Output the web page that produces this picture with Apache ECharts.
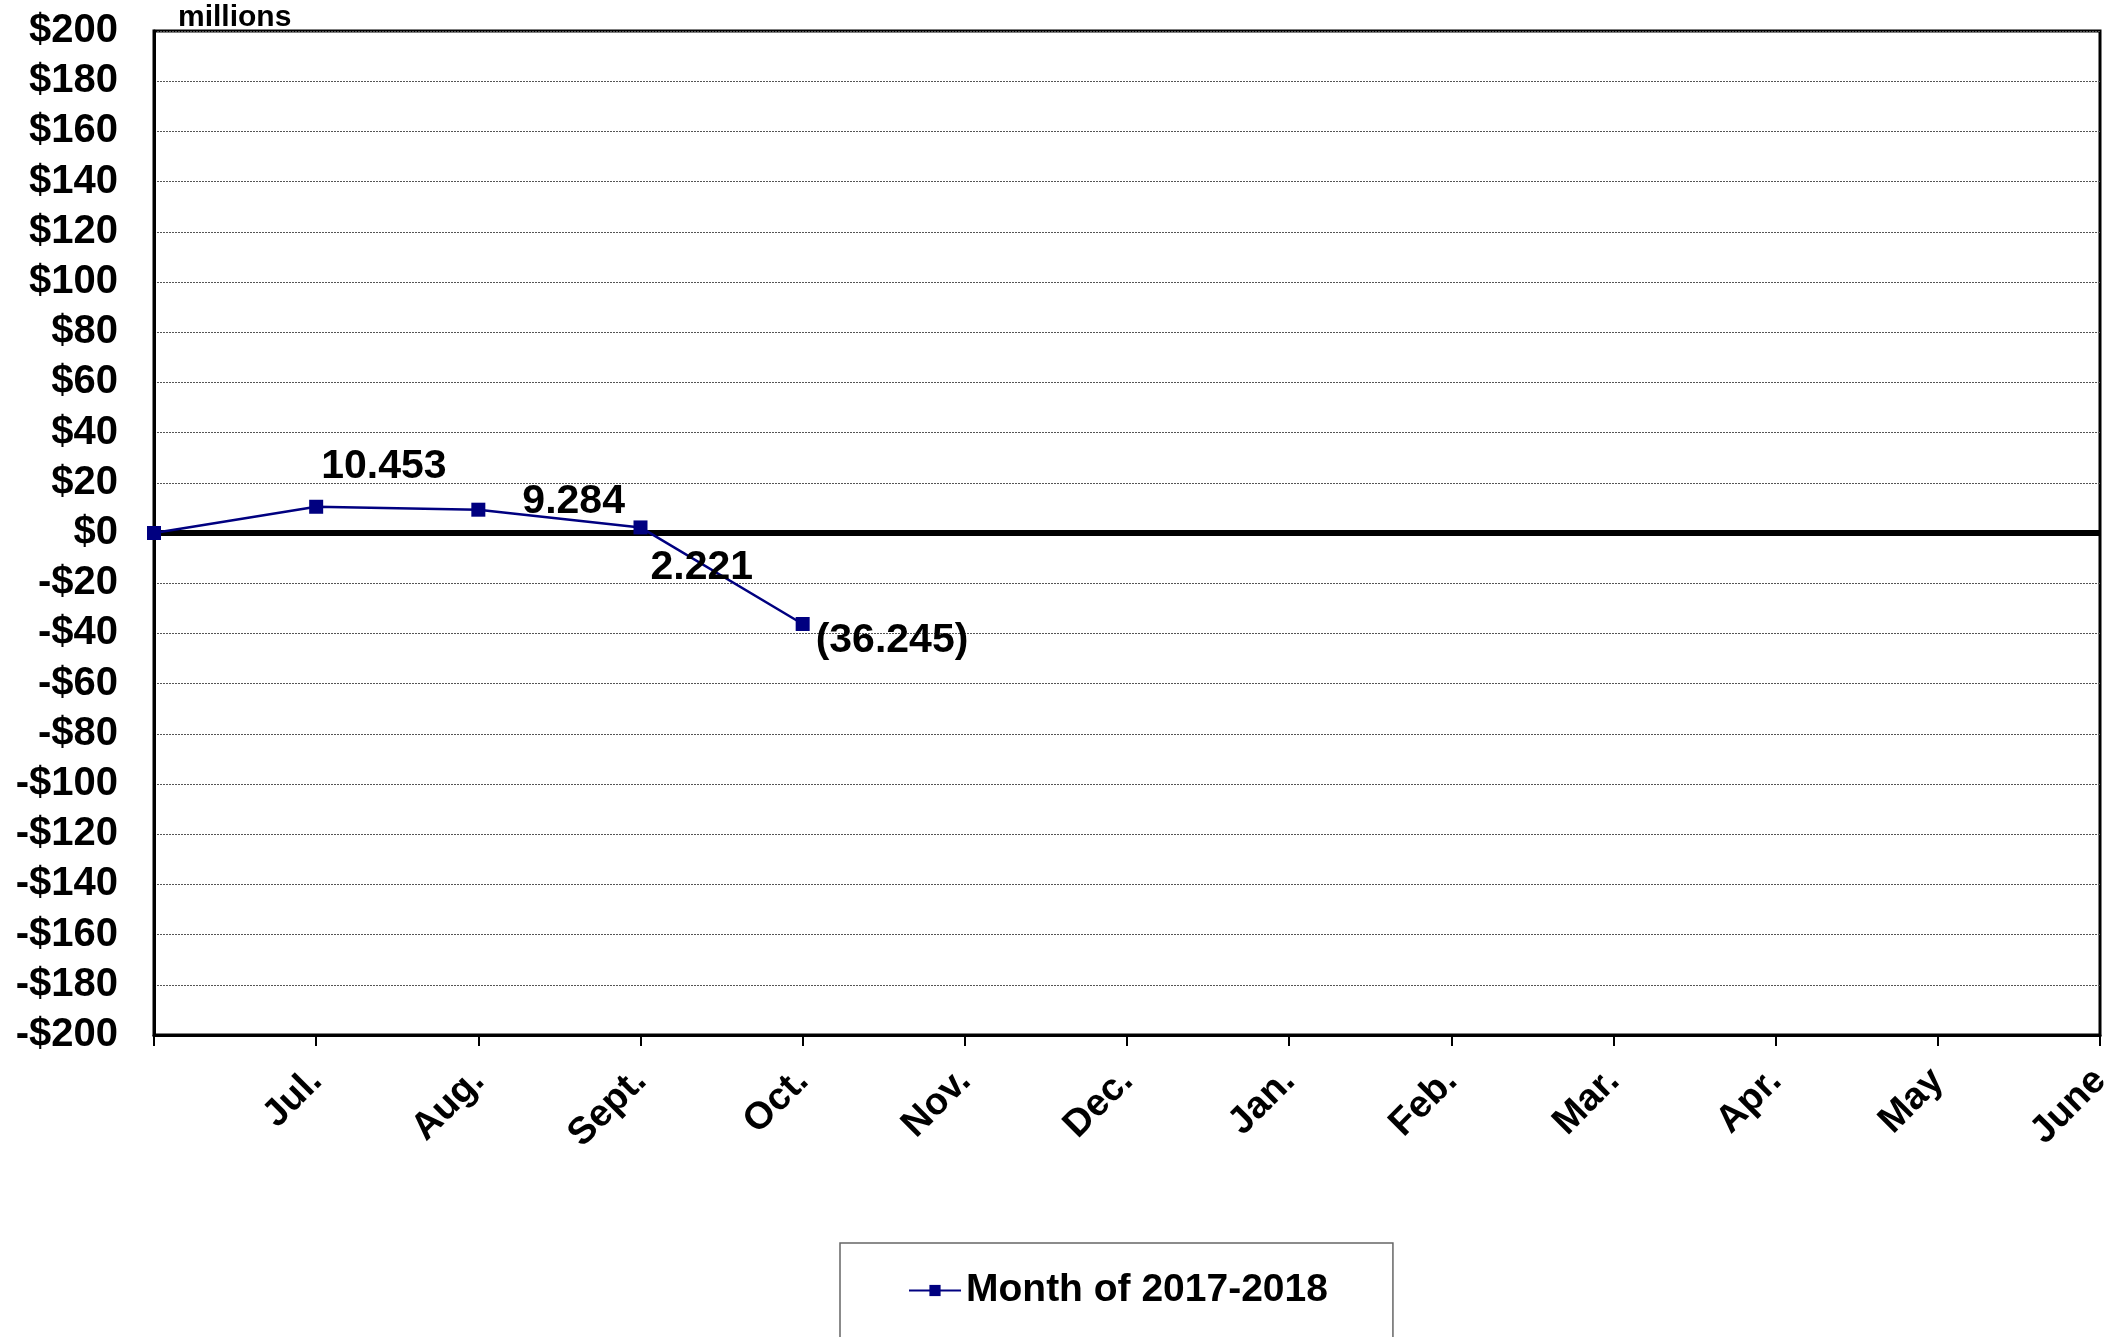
<!DOCTYPE html>
<html>
<head>
<meta charset="utf-8">
<script src="https://cdn.jsdelivr.net/npm/echarts@6/dist/echarts.min.js"></script>
<style>
html,body{margin:0;padding:0;background:#fff;}
#chart{width:2121px;height:1337px;}
</style>
</head>
<body>
<div id="chart"></div>
<script>
const categories = ['', 'Jul.', 'Aug.', 'Sept.', 'Oct.', 'Nov.', 'Dec.', 'Jan.', 'Feb.', 'Mar.', 'Apr.', 'May', 'June'];
const values = [0, 10.453, 9.284, 2.221, -36.245];
const labelShown = [false, true, true, true, true];
const labelOffsets = [[0, 0], [-2, -40], [37, -8], [3, 40], [6, 17]];
const seriesName = 'Month of 2017-2018';
const yMin = -200, yMax = 200, yStep = 20;

const FONT = "'Liberation Sans', Arial, sans-serif";

function fmtLabel(v) {
  return v < 0 ? '(' + Math.abs(v).toFixed(3) + ')' : v.toFixed(3);
}

const chart = echarts.init(document.getElementById('chart'));
chart.setOption({
  backgroundColor: '#fff',
  animation: false,
  grid: {
    left: 154, right: 21, top: 31, bottom: 302,
    show: true, borderColor: '#000', borderWidth: 3, backgroundColor: 'transparent'
  },
  graphic: [{
    type: 'text', left: 178, top: 3,
    style: { text: 'millions', font: "bold 30px 'Liberation Sans', Arial, sans-serif", fill: '#000' }
  }],
  legend: {
    show: true,
    left: 840, top: 1243,
    padding: [28, 65, 60, 68],
    borderColor: '#666', borderWidth: 1.5,
    itemWidth: 52, itemHeight: 14, itemGap: 4,
    textStyle: { fontFamily: FONT, fontWeight: 'bold', fontSize: 39, color: '#000' },
    data: [seriesName]
  },
  xAxis: {
    type: 'category',
    data: categories,
    boundaryGap: false,
    axisLine: { show: true, onZero: false, lineStyle: { color: '#000', width: 3 } },
    axisTick: { show: true, alignWithLabel: true, length: 11, lineStyle: { color: '#000', width: 2 } },
    axisLabel: {
      interval: 0, rotate: 45, margin: 40,
      fontFamily: FONT, fontWeight: 'bold', fontSize: 38, color: '#000'
    },
    splitLine: { show: false }
  },
  yAxis: {
    type: 'value',
    min: yMin, max: yMax, interval: yStep,
    axisLine: { show: true, lineStyle: { color: '#000', width: 3 } },
    axisTick: { show: false },
    axisLabel: {
      margin: 36,
      fontFamily: FONT, fontWeight: 'bold', fontSize: 40, color: '#000',
      formatter: function (v) { return (v < 0 ? '-$' : '$') + Math.abs(v); }
    },
    splitLine: { show: true, lineStyle: { color: '#555', width: 1, type: [2, 1] } }
  },
  series: [{
    name: seriesName,
    type: 'line',
    data: values.map(function (v, i) {
      return {
        value: v,
        label: {
          show: labelShown[i],
          position: 'right', distance: 0,
          offset: labelOffsets[i]
        }
      };
    }),
    symbol: 'rect',
    symbolSize: 14,
    showSymbol: true,
    lineStyle: { color: '#000080', width: 2.5 },
    itemStyle: { color: '#000080' },
    label: {
      fontFamily: FONT, fontWeight: 'bold', fontSize: 41, color: '#000',
      formatter: function (p) { return fmtLabel(p.value); }
    },
    markLine: {
      silent: true, symbol: ['none', 'none'],
      label: { show: false },
      lineStyle: { color: '#000', width: 6, type: 'solid' },
      data: [{ yAxis: 0 }]
    },
    z: 5
  }]
});
</script>
</body>
</html>
